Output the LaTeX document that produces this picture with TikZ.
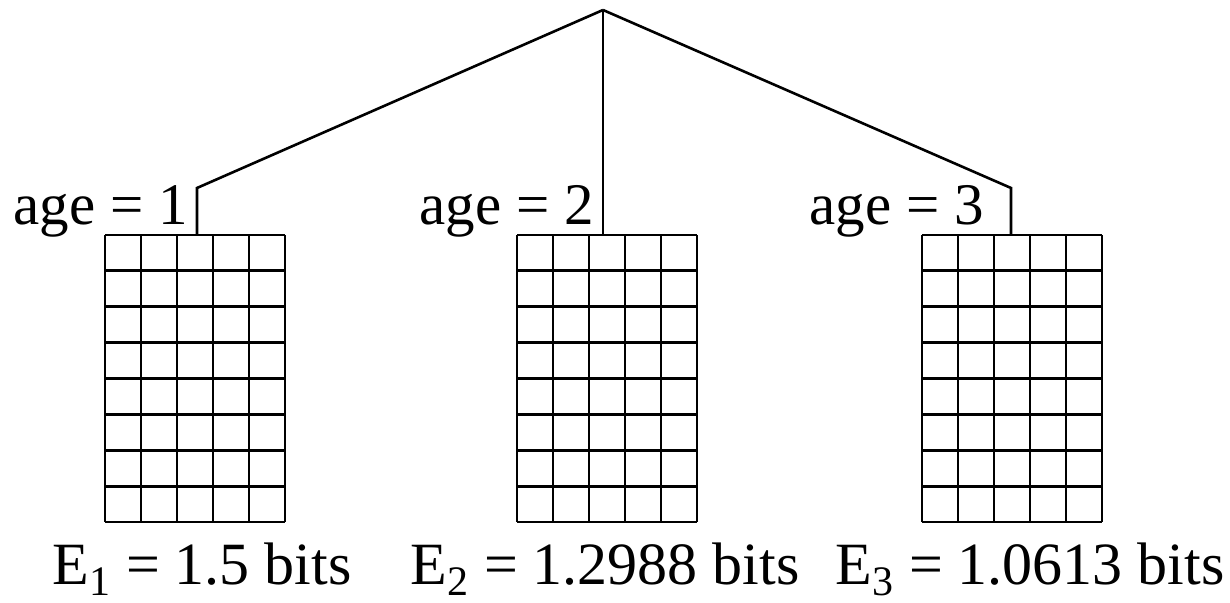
\documentclass[tikz,border=0pt]{standalone}
\usepackage{fontspec}
\setmainfont{Liberation Serif}
\tikzset{
  gridline/.style={line width=1.4pt},
  branch/.style={line width=1.3pt},
  gridbox/.style={rectangle,inner sep=0pt,minimum width=90pt,minimum height=143.5pt},
  agelabel/.style={anchor=base east,inner sep=0pt,font=\fontsize{29.5}{35}\selectfont},
  entlabel/.style={anchor=base west,inner sep=0pt,font=\fontsize{30}{36}\selectfont},
}
\begin{document}
\begin{tikzpicture}[x=0.5pt,y=0.5pt]
  \useasboundingbox (0,0) rectangle (1230,603);
  % grids, 5 columns by 8 rows
  \foreach \gx/\n in {105/1,517/2,922/3}{
    \node[gridbox] (g\n) at (\gx+90,224.5) {};
    \foreach \i in {0,...,5}
      \draw[gridline] (\gx+\i*36,81)--++(0,287);
    \foreach \j in {0,...,8}
      \draw[gridline] (\gx,81+\j*35.875)--++(180,0);
  }
  % tree
  \coordinate (root) at (603,593);
  \coordinate (k1) at (197,415);
  \coordinate (k3) at (1011,415);
  \draw[branch] (root)--(k1)--(k1|-g1.north);
  \draw[branch] (root)--(root|-g2.north);
  \draw[branch] (root)--(k3)--(k3|-g3.north);
  % labels
  \node[agelabel] (a1) at (188,378) {age = 1};
  \node[agelabel] (a2) at (594,378) {age = 2};
  \node[agelabel] (a3) at (984,378) {age = 3};
  \node[entlabel] (e1) at (52,18) {E\textsubscript{1} = 1.5 bits};
  \node[entlabel] (e2) at (410,18) {E\textsubscript{2} = 1.2988 bits};
  \node[entlabel] (e3) at (835,18) {E\textsubscript{3} = 1.0613 bits};
\end{tikzpicture}
\end{document}
